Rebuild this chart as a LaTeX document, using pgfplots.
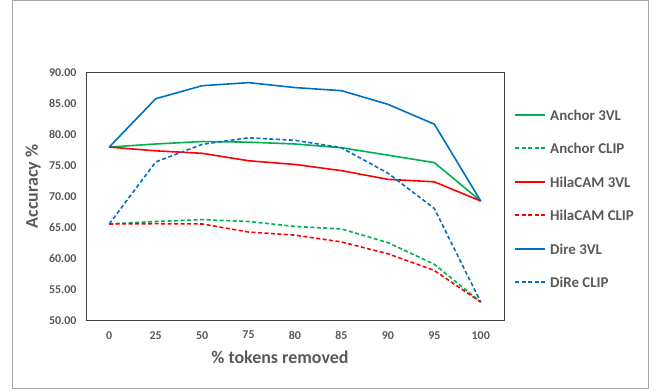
\documentclass[border=0pt]{standalone}
\usepackage{fontspec}
\setmainfont{Carlito}
\usepackage{pgfplots}
\pgfplotsset{compat=1.18}
\definecolor{txtgray}{HTML}{595959}
\definecolor{cgreen}{HTML}{00B050}
\definecolor{cred}{HTML}{FF0000}
\definecolor{cblue}{HTML}{0070C0}
\definecolor{framegray}{HTML}{A6A6A6}
\tikzset{
  solidl/.style={line width=1.6bp, solid},
  dashl/.style={line width=1.6bp, dash pattern=on 4bp off 2.5bp},
  lgt/.style={anchor=west, inner sep=0pt, font=\fontsize{15}{17}\selectfont\bfseries},
}
\begin{document}
\begin{tikzpicture}
\useasboundingbox (0,0) rectangle (656bp,391bp);
\draw[framegray, line width=0.8bp] (12.5bp,3bp) rectangle (648bp,390.6bp);
% legend swatches (drawn before any text)
\draw[cgreen, solidl, line width=2bp] (515bp,276bp) -- (545bp,276bp);
\draw[cgreen, dashl, line width=2bp] (515bp,243bp) -- (545bp,243bp);
\draw[cred, solidl, line width=2bp] (515bp,209bp) -- (545bp,209bp);
\draw[cred, dashl, line width=2bp] (515bp,176bp) -- (545bp,176bp);
\draw[cblue, solidl, line width=2bp] (515bp,142bp) -- (545bp,142bp);
\draw[cblue, dashl, line width=2bp] (515bp,109bp) -- (545bp,109bp);
\begin{axis}[
  at={(86bp,70.3bp)}, anchor=south west,
  scale only axis, width=418bp, height=248bp,
  xmin=-0.5, xmax=8.5, ymin=50, ymax=90,
  xtick={0,1,2,3,4,5,6,7,8},
  xticklabels={0,25,50,75,80,85,90,95,100},
  ytick={50,55,60,65,70,75,80,85,90},
  major tick length=0pt,
  axis line style={draw=black!75, line width=0.9bp},
  /pgf/number format/.cd, fixed, fixed zerofill, precision=2, assume math mode=true,
  /pgfplots/.cd,
  tick label style={font=\fontsize{12}{14}\selectfont\bfseries, text=txtgray},
  yticklabel style={xshift=-6bp},
  xticklabel style={yshift=-7bp},
  xlabel={\% tokens removed},
  ylabel={Accuracy \%},
  label style={font=\fontsize{18}{20}\selectfont\bfseries, text=txtgray},
  xlabel style={at={(rel axis cs:0.464,0)}, anchor=center, yshift=-36.3bp},
  ylabel style={at={([xshift=-53bp]rel axis cs:0,0.541)}, anchor=center},
  clip=false,
]
\addplot[cgreen, solidl] coordinates {(0,78.0)(1,78.5)(2,78.9)(3,78.8)(4,78.5)(5,77.9)(6,76.7)(7,75.5)(8,69.3)};
\addplot[cgreen, dashl] coordinates {(0,65.6)(1,66.0)(2,66.3)(3,66.0)(4,65.2)(5,64.8)(6,62.6)(7,59.1)(8,53.0)};
\addplot[cred, solidl] coordinates {(0,78.0)(1,77.4)(2,77.0)(3,75.8)(4,75.2)(5,74.2)(6,72.8)(7,72.4)(8,69.3)};
\addplot[cred, dashl] coordinates {(0,65.6)(1,65.65)(2,65.6)(3,64.3)(4,63.8)(5,62.7)(6,60.8)(7,58.1)(8,53.0)};
\addplot[cblue, solidl] coordinates {(0,78.0)(1,85.8)(2,87.9)(3,88.4)(4,87.6)(5,87.1)(6,84.9)(7,81.7)(8,69.3)};
\addplot[cblue, dashl] coordinates {(0,65.6)(1,75.6)(2,78.45)(3,79.5)(4,79.1)(5,77.9)(6,73.8)(7,68.1)(8,53.0)};
\end{axis}
\begin{scope}[color=txtgray]
\node[lgt] at (550bp,276bp) {Anchor 3VL};
\node[lgt] at (550bp,243bp) {Anchor CLIP};
\node[lgt] at (550bp,209bp) {HilaCAM 3VL};
\node[lgt] at (550bp,176bp) {HilaCAM CLIP};
\node[lgt] at (550bp,142bp) {Dire 3VL};
\node[lgt] at (550bp,109bp) {DiRe CLIP};
\end{scope}
\end{tikzpicture}
\end{document}
